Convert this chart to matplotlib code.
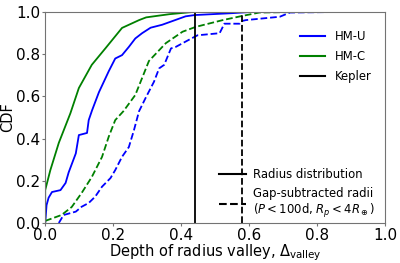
import matplotlib
matplotlib.use("Agg")
import matplotlib.pyplot as plt
from matplotlib.lines import Line2D

# CDF curves (depth, cumulative fraction)
hmu_x = [0.0, 0.004, 0.01, 0.02, 0.045, 0.06, 0.069, 0.09, 0.099, 0.123, 0.128, 0.138,
         0.158, 0.187, 0.206, 0.226, 0.246, 0.265, 0.285, 0.31, 0.344, 0.413, 0.44, 0.55, 0.6]
hmu_y = [0.0, 0.085, 0.12, 0.147, 0.156, 0.19, 0.24, 0.33, 0.417, 0.427, 0.488, 0.535,
         0.62, 0.72, 0.78, 0.796, 0.835, 0.875, 0.9, 0.926, 0.94, 0.98, 0.986, 0.995, 1.0]

hmc_x = [0.0, 0.0, 0.015, 0.04, 0.074, 0.099, 0.137, 0.178, 0.226, 0.276, 0.297, 0.365,
         0.43, 0.51]
hmc_y = [0.0, 0.156, 0.25, 0.38, 0.52, 0.64, 0.75, 0.83, 0.925, 0.962, 0.975, 0.99,
         1.0, 1.0]

hmu_gap_x = [0.04, 0.054, 0.09, 0.107, 0.128, 0.147, 0.167, 0.192, 0.206, 0.226, 0.246,
             0.261, 0.276, 0.295, 0.32, 0.335, 0.35, 0.37, 0.384, 0.43, 0.448, 0.513,
             0.527, 0.572, 0.577, 0.59, 0.69, 0.72, 0.83]
hmu_gap_y = [0.0, 0.038, 0.054, 0.077, 0.095, 0.125, 0.172, 0.213, 0.251, 0.314, 0.36,
             0.44, 0.53, 0.592, 0.67, 0.733, 0.75, 0.828, 0.835, 0.875, 0.89, 0.9,
             0.945, 0.945, 0.957, 0.962, 0.978, 0.998, 1.0]

hmc_gap_x = [0.0, 0.048, 0.078, 0.107, 0.137, 0.167, 0.187, 0.206, 0.23, 0.265, 0.305,
             0.355, 0.404, 0.443, 0.522, 0.58, 0.63, 0.73]
hmc_gap_y = [0.01, 0.038, 0.076, 0.142, 0.218, 0.313, 0.41, 0.488, 0.53, 0.607, 0.768,
             0.853, 0.907, 0.93, 0.962, 0.982, 0.998, 1.0]

kepler_depth = 0.442
kepler_gap_depth = 0.578

fig = plt.figure(figsize=(4, 2.63), dpi=100)
ax = fig.add_axes([0.113, 0.152, 0.85, 0.802])

ax.plot(hmu_x, hmu_y, color="blue", lw=1.3)
ax.plot(hmc_x, hmc_y, color="green", lw=1.3)
ax.plot(hmu_gap_x, hmu_gap_y, color="blue", lw=1.3, ls="--")
ax.plot(hmc_gap_x, hmc_gap_y, color="green", lw=1.3, ls="--")
ax.axvline(kepler_depth, color="black", lw=1.3)
ax.axvline(kepler_gap_depth, color="black", lw=1.3, ls="--")

ax.set_xlim(0, 1)
ax.set_ylim(0, 1)
for s in ax.spines.values():
    s.set_color("0.45")
ax.tick_params(labelsize=11, length=2, pad=1.5, color="0.45")
ax.set_xlabel(r"Depth of radius valley, $\Delta_{\rm valley}$", fontsize=10.5,
              labelpad=0)
ax.set_ylabel("CDF", fontsize=10.5, labelpad=1)

h1 = [Line2D([], [], color="blue"), Line2D([], [], color="green"),
      Line2D([], [], color="black")]
leg1 = ax.legend(h1, ["HM-U", "HM-C", "Kepler"], loc="upper right",
                 bbox_to_anchor=(0.99, 0.965), frameon=False, fontsize=8.4,
                 handlelength=2.2, labelspacing=0.6)
ax.add_artist(leg1)

h2 = [Line2D([], [], color="black"), Line2D([], [], color="black", ls="--")]
ax.legend(h2, ["Radius distribution",
               "Gap-subtracted radii\n" + r"($P < 100$d, $R_p < 4R_\oplus$)"],
          loc="lower right", frameon=False, fontsize=8.4, handlelength=2.3,
          handletextpad=0.6, bbox_to_anchor=(1.0, -0.035))

fig.savefig("out.png", dpi=100)
